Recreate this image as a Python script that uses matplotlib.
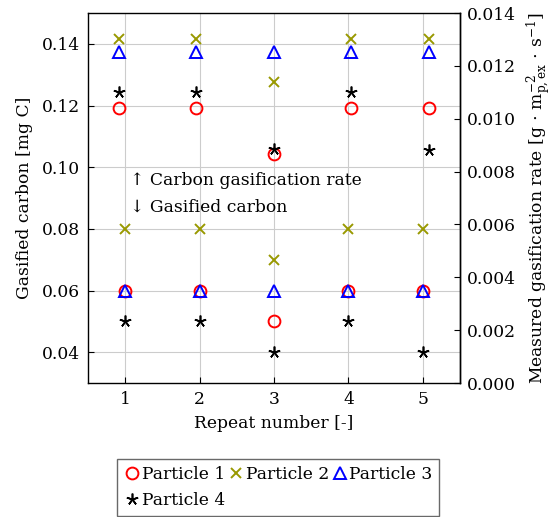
import numpy as np
import matplotlib
matplotlib.use("Agg")
import matplotlib.pyplot as plt

plt.rcParams['font.family'] = ['DejaVu Serif']
plt.rcParams['mathtext.fontset'] = 'dejavuserif'

# Repeat numbers
repeats = [1, 2, 3, 4, 5]

# Gasified carbon [mg C] (left axis, lower group)
carbon_p1 = [0.06, 0.06, 0.05, 0.06, 0.06]
carbon_p2 = [0.08, 0.08, 0.07, 0.08, 0.08]
carbon_p3 = [0.06, 0.06, 0.06, 0.06, 0.06]
carbon_p4 = [0.05, 0.05, 0.04, 0.05, 0.04]

# Measured gasification rate (right axis, upper group)
rate_p1 = [0.0104, 0.0104, 0.00868, 0.0104, 0.0104]
rate_p2 = [0.0130, 0.0130, 0.0114, 0.0130, 0.0130]
rate_p3 = [0.01253, 0.01253, 0.01253, 0.01253, 0.01253]
rate_p4 = [0.0110, 0.0110, 0.00885, 0.0110, 0.0088]

labels = ['Particle 1', 'Particle 2', 'Particle 3', 'Particle 4']
olive = '#999900'
styles = [
    dict(marker='o', color='red', mfc='none', ms=8.5, mew=1.4),
    dict(marker='x', color=olive, ms=6.5, mew=1.4),
    dict(marker='^', color='blue', mfc='none', ms=8.5, mew=1.4),
    dict(marker=(5, 2, 0), color='black', ms=8.5, mew=1.2),
]
fs = 12.3

fig = plt.figure(figsize=(5.52, 5.17), dpi=100)
rect = [88 / 552, 134 / 517, 372 / 552, 370 / 517]
ax = fig.add_axes(rect)
# second axes with its own x scale (rates sit on a slightly different x range)
ax2 = fig.add_axes(rect, label='rate')
ax2.patch.set_visible(False)
ax2.yaxis.tick_right()
ax2.yaxis.set_label_position('right')
ax2.xaxis.set_visible(False)
for side in ('left', 'top', 'bottom'):
    ax2.spines[side].set_visible(False)

carbon = [carbon_p1, carbon_p2, carbon_p3, carbon_p4]
rates = [rate_p1, rate_p2, rate_p3, rate_p4]

handles = []
for c, r, lab, st in zip(carbon, rates, labels, styles):
    h, = ax.plot(repeats, c, linestyle='none', label=lab, **st)
    ax2.plot(repeats, r, linestyle='none', **st)
    handles.append(h)

ax.set_xlim(0.5, 5.5)
ax.set_ylim(0.03, 0.15)
ax2.set_xlim(0.6, 5.4)
ax2.set_ylim(0, 0.014)

ax.set_xticks(repeats)
ax.set_yticks([0.04, 0.06, 0.08, 0.10, 0.12, 0.14])
ax.set_yticklabels(['0.04', '0.06', '0.08', '0.10', '0.12', '0.14'])
rticks = np.arange(0, 0.0141, 0.002)
ax2.set_yticks(rticks)
ax2.set_yticklabels(['%.3f' % t for t in rticks])

ax.grid(True, color='#cccccc', linewidth=0.8)
ax.set_axisbelow(True)
ax.tick_params(direction='in', labelsize=fs, length=4, pad=6, right=False)
ax2.tick_params(direction='in', labelsize=fs, length=4, pad=5)
for a in (ax, ax2):
    for s in a.spines.values():
        s.set_linewidth(1.0)

ax.set_xlabel('Repeat number [-]', fontsize=fs, labelpad=5)
ax.set_ylabel('Gasified carbon [mg C]', fontsize=fs, labelpad=6)
ax2.set_ylabel(r'Measured gasification rate [g$\,\cdot\,$m$_{\mathrm{p,ex}}^{-2}$$\,\cdot\,$s$^{-1}$]',
               fontsize=fs, labelpad=6)

ax.text(1.07, 0.0958, '\u2191 Carbon gasification rate', fontsize=fs, va='center')
ax.text(1.07, 0.0871, '\u2193 Gasified carbon', fontsize=fs, va='center')

# row-major order for the 3-column legend
order = [0, 3, 1, 2]
leg = fig.legend(handles=[handles[i] for i in order], loc='upper left',
                 bbox_to_anchor=(117 / 552, 1 - 459 / 517),
                 ncol=3, fontsize=fs, frameon=True, fancybox=False, edgecolor='#444444',
                 handletextpad=0.05, columnspacing=0.15, handlelength=1.0, borderpad=0.4,
                 labelspacing=0.55, borderaxespad=0)
leg.get_frame().set_linewidth(1.0)

fig.savefig('out.png', dpi=100)
